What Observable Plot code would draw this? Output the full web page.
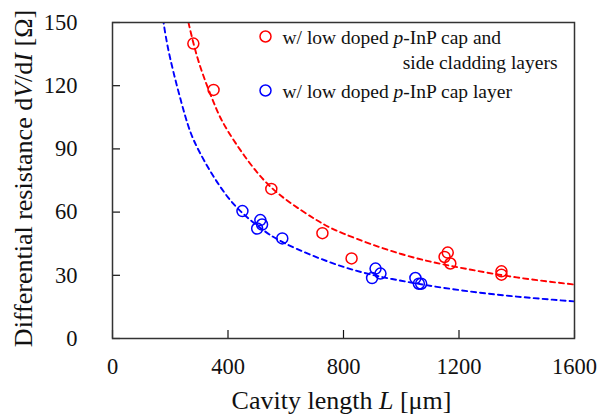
<!DOCTYPE html>
<html><head><meta charset="utf-8">
<script src="https://cdn.jsdelivr.net/npm/d3@7"></script>
<script src="https://cdn.jsdelivr.net/npm/@observablehq/plot@0.6"></script>
<style>body{margin:0;background:#fff} #chart{width:612px;height:416px}</style>
</head><body><div id="chart"></div>
<script>
// ---- data ----
const xTicks = [0, 400, 800, 1200, 1600];
const yTicks = [0, 30, 60, 90, 120, 150];

const redL = [280, 350, 550, 727, 828, 1150, 1161, 1170, 1347, 1347];
const redR = [140, 118, 71, 50, 38, 38.7, 40.8, 35.6, 31.9, 30.3];
const blueL = [450, 501, 512, 518, 588, 899, 911, 928, 1049, 1061, 1069];
const blueR = [60.5, 52.2, 56.2, 54.1, 47.5, 28.7, 33.2, 30.8, 28.7, 26, 26];

const redFitL = [263, 300, 350, 400, 500, 600, 700, 800, 1000, 1200, 1400, 1600];
const redFitR = [150, 130.7, 112.2, 98.4, 79, 66, 56.8, 49.8, 40.1, 33.7, 29, 25.6];
const blueFitL = [175, 200, 250, 300, 400, 500, 600, 800, 1000, 1200, 1400, 1600];
const blueFitR = [151.7, 132.9, 106.5, 88.9, 67, 53.8, 45, 34, 27.4, 23, 19.9, 17.6];

const seriesNames = ["w/ low doped p-InP cap and", "side cladding layers", "w/ low doped p-InP cap layer"];
const xTitle = "Cavity length L [μm]";
const yTitle = "Differential resistance dV/dI [Ω]";

// ---- tables built from the arrays ----
const red = redL.map((L, i) => ({L, R: redR[i]}));
const blue = blueL.map((L, i) => ({L, R: blueR[i]}));
const redFit = redFitL.map((L, i) => ({L, R: redFitR[i]}));
const blueFit = blueFitL.map((L, i) => ({L, R: blueFitR[i]}));

const RED = "#ff0000", BLUE = "#0000ff", INK = "#111";
const FONT = '"Liberation Serif", "Times New Roman", serif';

const plot = Plot.plot({
  width: 612, height: 416,
  marginLeft: 112, marginRight: 38, marginTop: 22, marginBottom: 78,
  style: {fontFamily: FONT, background: "#fff", color: INK},
  x: {domain: [0, 1600]},
  y: {domain: [0, 150]},
  marks: [
    Plot.line(redFit, {x: "L", y: "R", stroke: RED, strokeWidth: 1.9, strokeDasharray: "5,4", curve: "natural", clip: true}),
    Plot.line(blueFit, {x: "L", y: "R", stroke: BLUE, strokeWidth: 1.9, strokeDasharray: "5,4", curve: "natural", clip: true}),
    Plot.dot(red, {x: "L", y: "R", r: 5.5, stroke: RED, strokeWidth: 1.5, fill: "none"}),
    Plot.dot(blue, {x: "L", y: "R", r: 5.5, stroke: BLUE, strokeWidth: 1.5, fill: "none"}),
    // inward ticks
    Plot.axisX({ticks: xTicks, tickSize: 8, dy: -8, fill: "none", stroke: INK, strokeWidth: 1.2, label: null}),
    Plot.axisY({ticks: yTicks, tickSize: 8, dx: 8, fill: "none", stroke: INK, strokeWidth: 1.2, label: null}),
    // tick labels
    Plot.axisX({ticks: xTicks, tickFormat: d => String(d), tickSize: 0, tickPadding: 20, fontSize: 22.5, fontFamily: FONT, fill: INK, label: null}),
    Plot.axisY({ticks: yTicks, tickFormat: d => String(d), tickSize: 0, tickPadding: 35, fontSize: 22.5, fontFamily: FONT, fill: INK, label: null}),
    Plot.frame({stroke: "#333", strokeWidth: 1.5}),
    // axis titles
    Plot.text([xTitle], {frameAnchor: "bottom", text: d => d, textAnchor: "middle", lineAnchor: "middle", dx: -2, dy: 62, fontSize: 26, fontFamily: FONT, fill: INK}),
    Plot.text([yTitle], {frameAnchor: "left", text: d => d, rotate: -90, textAnchor: "middle", lineAnchor: "middle", dx: -89, dy: -2, fontSize: 26, fontFamily: FONT, fill: INK}),
    // legend
    Plot.dot([0], {frameAnchor: "top-left", dx: 153, dy: 14, r: 5.5, stroke: RED, strokeWidth: 1.5, fill: "none"}),
    Plot.dot([0], {frameAnchor: "top-left", dx: 153, dy: 68, r: 5.5, stroke: BLUE, strokeWidth: 1.5, fill: "none"}),
    Plot.text([seriesNames[0]], {frameAnchor: "top-left", text: d => d, textAnchor: "start", lineAnchor: "middle", dx: 170, dy: 15, fontSize: 19.5, fontFamily: FONT, fill: INK}),
    Plot.text([seriesNames[1]], {frameAnchor: "top-right", text: d => d, textAnchor: "end", lineAnchor: "middle", dx: -17, dy: 40, fontSize: 19.5, fontFamily: FONT, fill: INK}),
    Plot.text([seriesNames[2]], {frameAnchor: "top-left", text: d => d, textAnchor: "start", lineAnchor: "middle", dx: 170, dy: 69, fontSize: 19.5, fontFamily: FONT, fill: INK})
  ]
});
document.getElementById("chart").appendChild(plot);

// italic fragments
const rich = {
  [seriesNames[0]]: [["w/ low doped ", 0], ["p", 1], ["-InP cap and", 0]],
  [seriesNames[2]]: [["w/ low doped ", 0], ["p", 1], ["-InP cap layer", 0]],
  [xTitle]: [["Cavity length ", 0], ["L", 1], [" [μm]", 0]],
  [yTitle]: [["Differential resistance d", 0], ["V", 1], ["/d", 0], ["I", 1], [" [Ω]", 0]]
};
plot.querySelectorAll("text").forEach(t => {
  const parts = rich[t.textContent];
  if (!parts) return;
  t.textContent = "";
  for (const [s, it] of parts) {
    const ts = document.createElementNS("http://www.w3.org/2000/svg", "tspan");
    ts.textContent = s;
    if (it) ts.setAttribute("font-style", "italic");
    t.appendChild(ts);
  }
});
</script>
</body></html>
